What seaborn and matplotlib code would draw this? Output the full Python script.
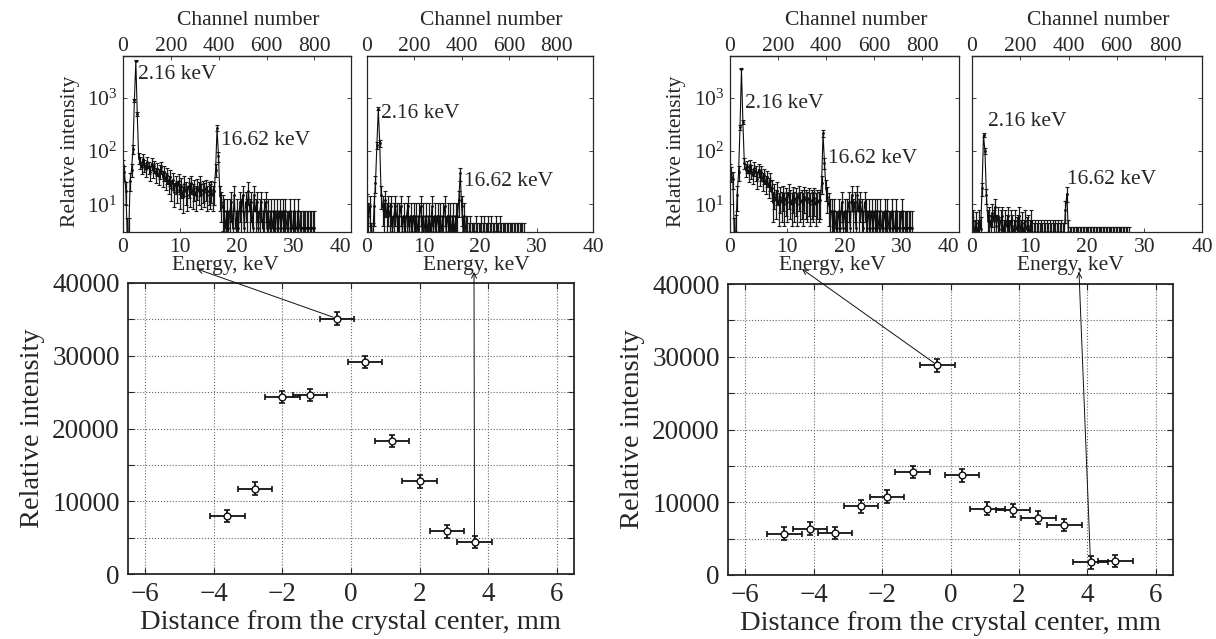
import numpy as np
import matplotlib
matplotlib.use("Agg")
import matplotlib.pyplot as plt
import seaborn as sns
from matplotlib.ticker import FuncFormatter, LogFormatterSciNotation, NullLocator

# ---- data ----
# spectra: relative intensity per 0.25 keV bin, starting at 0 keV
step_kev = 0.25
spec_a1 = [55, 40, 18, 2.5, 2.5, 28, 45, 110, 900, 4900, 500, 75,
           62, 50, 72, 55, 46, 63, 50, 40, 58, 44, 52, 37, 47, 34, 42, 50,
           32, 40, 29, 36, 25, 33, 20, 29, 17, 25, 19, 27, 16, 22, 14, 24,
           18, 15, 22, 17, 25, 16, 20, 15, 21, 18, 24, 16, 19, 17, 20, 15,
           18, 16, 19, 15, 18, 45, 270, 80, 15, 11, 9, 7.4,
           3.7, 7.4, 3.7, 7.4, 11, 3.7, 15, 3.7, 7.4, 3.7, 11, 7.4, 15, 3.7,
           11, 7.4, 18, 7.4, 11, 3.7, 15, 7.4, 11, 3.7, 7.4, 11, 3.7, 7.4,
           11, 3.7, 7.4, 3.7, 7.4, 3.7, 7.4, 3.7, 7.4, 3.7, 7.4, 3.7, 7.4,
           3.7, 7.4, 3.7, 3.7, 7.4, 3.7, 3.7, 7.4, 3.7, 3.7, 7.4, 3.7, 3.7,
           3.7, 3.7, 3.7, 3.7, 3.7, 3.7, 3.7, 3.7, 3.7]
spec_a2 = [10, 6.2, 9.3, 2, 2, 9.3, 25, 130, 620, 140, 15, 9.3,
           6.2, 12, 6.2, 9.3, 6.2, 9.3, 3.1, 6.2, 9.3, 6.2, 3.1, 6.2, 9.3,
           3.1, 6.2, 3.1, 6.2, 9.3, 3.1, 6.2, 3.1, 6.2, 3.1, 6.2, 3.1, 6.2,
           9.3, 3.1, 6.2, 3.1, 6.2, 3.1, 6.2, 3.1, 9.3, 3.1, 6.2, 3.1, 6.2,
           3.1, 6.2, 3.1, 6.2, 9.3, 3.1, 6.2, 3.1, 6.2, 3.1, 6.2, 3.1, 6.2,
           6.2, 12, 38, 9.3, 3.1, 6.2, 3.1, 3.1,
           2, 3.1, 2, 2, 2, 3.1, 2, 2, 2, 3.1, 2, 3.1, 2, 2, 3.1, 2, 3.1,
           2, 2, 3.1, 2, 2, 3.1, 2, 2, 2, 2, 2, 2, 2, 2, 2, 2, 2, 2, 2, 2,
           2, 2, 2]
spec_b1 = [45, 38, 30, 2.5, 3, 15, 40, 280, 3500, 350, 60, 45,
           52, 38, 55, 42, 35, 48, 40, 30, 45, 33, 40, 28, 35, 25, 32, 22,
           28, 20, 11, 16, 12, 18, 10, 14, 11, 15, 10, 13, 11, 16, 12, 10,
           14, 11, 13, 10, 15, 11, 12, 10, 14, 12, 11, 13, 10, 12, 11, 13,
           10, 12, 11, 12, 25, 215, 60, 20, 14, 10, 7.4, 7.4,
           3.7, 7.4, 3.7, 3.7, 7.4, 3.7, 11, 3.7, 7.4, 3.7, 7.4, 11, 3.7,
           15, 7.4, 11, 3.7, 15, 7.4, 11, 7.4, 3.7, 11, 7.4, 3.7, 7.4, 3.7,
           7.4, 3.7, 7.4, 3.7, 7.4, 3.7, 7.4, 3.7, 3.7, 7.4, 3.7, 7.4, 3.7,
           3.7, 7.4, 3.7, 3.7, 7.4, 3.7, 3.7, 3.7, 7.4, 3.7, 3.7, 3.7, 3.7,
           3.7, 3.7, 3.7]
spec_b2 = [3.5, 5, 3, 4.5, 3, 5, 3.5, 20, 200, 100, 15, 5,
           6, 4, 7, 5, 9, 4, 6, 3.5, 5, 6, 3, 5, 4, 6, 3, 5, 4, 3, 5, 3.5,
           4, 6, 3, 4.5, 3, 5, 3.5, 4, 3, 5, 3, 2.5, 3, 2.5, 3, 2.5, 3, 2.5,
           3, 2.5, 3, 2.5, 3, 2.5, 3, 2.5, 3, 2.5, 3, 2.5, 3, 2.5, 2.5, 8, 16,
           3, 2, 2, 2, 2, 2, 2, 2, 2, 2, 2, 2, 2, 2, 2, 2, 2, 2, 2, 2, 2, 2,
           2, 2, 2, 2, 2, 2, 2, 2, 2, 2, 2, 2, 2, 2, 2, 2, 2, 2, 2, 2, 2]
count_scale = [3.7, 3.1, 3.7, 1.5]
kev_per_channel = 40 / 953

# profiles: position (mm) and relative intensity
pos_a = [-3.6, -2.8, -2.0, -1.2, -0.4, 0.4, 1.2, 2.0, 2.8, 3.6]
int_a = [7970, 11730, 24330, 24600, 35100, 29100, 18240, 12740, 5860, 4440]
pos_b = [-4.85, -4.11, -3.38, -2.62, -1.86, -1.11, -0.38, 0.34, 1.08, 1.82,
         2.57, 3.33, 4.09, 4.82]
int_b = [5680, 6370, 5770, 9440, 10770, 14160, 28820, 13700, 9120, 8890,
         7880, 6870, 1740, 1920]
pos_err = 0.5
int_err = 850

# peak labels: (energy, intensity) of text anchor
peak_labels = ["2.16 keV", "16.62 keV"]
label_pos = [[(2.7, 2650), (17.2, 160)], [(2.5, 500), (17.2, 27)],
             [(2.6, 770), (17.1, 72)], [(2.85, 355), (16.6, 29)]]

# ---- style ----
sns.set_style("ticks")
plt.rcParams["font.family"] = ["Liberation Serif", "DejaVu Serif"]
plt.rcParams["mathtext.fontset"] = "stix"
plt.rcParams["xtick.direction"] = "in"
plt.rcParams["ytick.direction"] = "in"

W, H = 1216, 639
fig = plt.figure(figsize=(W / 100, H / 100), dpi=100)


def rect(x0, y0, x1, y1):
    return [x0 / W, 1 - y1 / H, (x1 - x0) / W, (y1 - y0) / H]


def spectrum(box, values, scale, labels, ylabel, elabel_x):
    ax = fig.add_axes(box)
    e = step_kev * np.arange(len(values))
    v = np.array(values, dtype=float)
    ax.set_yscale("log", nonpositive="clip")
    ax.errorbar(e, v, yerr=np.sqrt(scale * v), fmt="none", ecolor="#1a1a1a",
                elinewidth=0.9, capsize=1.6, capthick=0.8)
    sns.lineplot(x=e, y=v, ax=ax, color="#0d0d0d", lw=0.8, marker="o",
                 markersize=2.0, markeredgewidth=0)
    ax.set_xlim(0, 40)
    ax.set_ylim(3.05, 6000)
    ax.set_xticks([0, 10, 20, 30, 40])
    ax.set_yticks([10, 100, 1000])
    ax.yaxis.set_minor_locator(NullLocator())
    ax.yaxis.set_major_formatter(LogFormatterSciNotation())
    ax.tick_params(labelsize=15.5, length=3, width=0.6, right=True, pad=4)
    if ylabel:
        ax.set_ylabel("Relative intensity", fontsize=15.5)
        ax.yaxis.set_label_coords(-0.19, 0.46)
        # last energy label sits flush with the right edge
        ax.get_xticklabels()[-1].set_horizontalalignment("right")
    else:
        ax.tick_params(labelleft=False)
    ax.set_xlabel("Energy, keV", fontsize=15.5)
    ax.xaxis.set_label_coords(elabel_x, -0.135)
    top = ax.secondary_xaxis("top", functions=(lambda k: k / kev_per_channel,
                                                lambda c: c * kev_per_channel))
    top.set_xticks([0, 200, 400, 600, 800])
    top.tick_params(labelsize=15.5, length=3, width=0.6, direction="in", pad=0)
    ax.text(0.55, 1.2, "Channel number", fontsize=15.5, ha="center",
            va="center", transform=ax.transAxes)
    for t, (x, y) in zip(peak_labels, labels):
        ax.text(x, y, t, fontsize=15.5, ha="left", va="center")
    for s in ax.spines.values():
        s.set_linewidth(0.9)
    top.spines["top"].set_linewidth(0.9)
    sns.despine(ax=ax, top=False, right=False)
    return ax


def profile(box, x, y):
    ax = fig.add_axes(box)
    ax.errorbar(x, y, xerr=pos_err, yerr=int_err, fmt="none", ecolor="#111111",
                elinewidth=1.3, capsize=2.5, capthick=1.2, zorder=3)
    sns.scatterplot(x=x, y=y, ax=ax, marker="o", s=24, color="white",
                    edgecolor="#111111", linewidth=1.0, zorder=4)
    ax.set_xlim(-6.5, 6.5)
    ax.set_ylim(0, 40000)
    ax.set_xticks(range(-6, 7, 2))
    ax.set_yticks(range(0, 40001, 5000))
    ax.yaxis.set_major_formatter(
        FuncFormatter(lambda v, p: f"{int(v)}" if v % 10000 == 0 else ""))
    ax.grid(True, ls=":", color="#666666", lw=0.8)
    ax.tick_params(labelsize=19.5, length=4, width=0.8, top=True, right=True,
                   pad=6)
    ax.set_xlabel("Distance from the crystal center, mm", fontsize=20.5,
                  labelpad=2)
    ax.set_ylabel("Relative intensity", fontsize=20.5)
    ax.yaxis.set_label_coords(-0.186, 0.5)
    for s in ax.spines.values():
        s.set_linewidth(1.3)
    return ax


def arrow(ax, x, y, tip):
    ax.annotate("", xy=(tip[0] / W, 1 - tip[1] / H), xycoords="figure fraction",
                xytext=(x, y), textcoords="data", annotation_clip=False,
                arrowprops=dict(arrowstyle="->", lw=0.7, color="#111111",
                                shrinkA=3, shrinkB=0, mutation_scale=9))


spectrum(rect(123, 56, 351, 232), spec_a1, count_scale[0], label_pos[0], True, 0.447)
spectrum(rect(367, 56, 593, 232), spec_a2, count_scale[1], label_pos[1], False, 0.482)
spectrum(rect(730, 56, 959, 232), spec_b1, count_scale[2], label_pos[2], True, 0.445)
spectrum(rect(972, 56, 1202, 232), spec_b2, count_scale[3], label_pos[3], False, 0.426)

ax_a = profile(rect(128, 283, 574, 574), pos_a, int_a)
ax_b = profile(rect(728, 284, 1173, 575), pos_b, int_b)

arrow(ax_a, pos_a[4], int_a[4], (197, 269))
arrow(ax_a, pos_a[9], int_a[9], (474, 272))
arrow(ax_b, pos_b[6], int_b[6], (802, 269))
arrow(ax_b, pos_b[12], int_b[12], (1079, 272))

fig.savefig("out.png", dpi=100)
